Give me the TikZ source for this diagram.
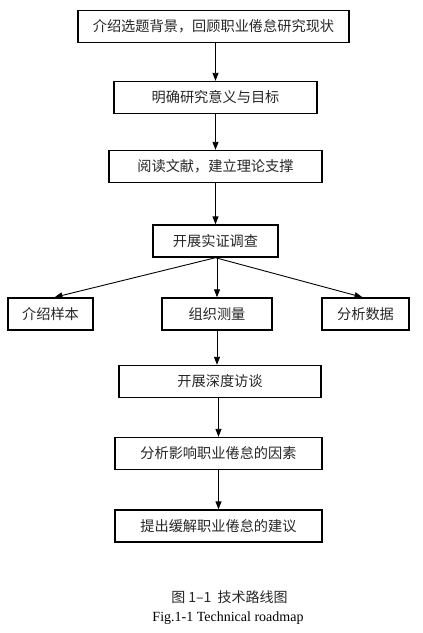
\documentclass[tikz,border=0pt]{standalone}
\usepackage{fontspec}
\setmainfont{Liberation Serif}
\newfontfamily\cjk{Noto Sans CJK SC}
\usetikzlibrary{arrows.meta}
\tikzset{
  flowbox/.style={draw=black, line width=1.4pt, inner sep=0pt, minimum height=32pt,
    font=\cjk\fontsize{14.2pt}{16pt}\selectfont, text=black!85},
  flowarrow/.style={draw=black, line width=0.9pt, -{Triangle[length=8pt,width=6pt]}},
  captext/.style={inner sep=0pt}
}
\begin{document}
\begin{tikzpicture}[x=1pt,y=-1pt]
\useasboundingbox (0,0) rectangle (423,633);
\node[flowbox, minimum width=271pt] (b1) at (213.5,26.5) {介绍选题背景，回顾职业倦怠研究现状};
\node[flowbox, minimum width=203pt] (b2) at (215.5,97.5) {明确研究意义与目标};
\node[flowbox, minimum width=213pt] (b3) at (215.5,166.5) {阅读文献，建立理论支撑};
\node[flowbox, minimum width=125pt] (b4) at (215.5,241) {开展实证调查};
\node[flowbox, minimum width=85pt] (s1) at (50.5,314) {介绍样本};
\node[flowbox, minimum width=110pt] (s2) at (217,314) {组织测量};
\node[flowbox, minimum width=87pt] (s3) at (365.5,314) {分析数据};
\node[flowbox, minimum width=202pt] (b5) at (220,381.5) {开展深度访谈};
\node[flowbox, minimum width=207pt] (b6) at (218.5,453.5) {分析影响职业倦怠的因素};
\node[flowbox, minimum width=207pt] (b7) at (218.5,526) {提出缓解职业倦怠的建议};

\draw[flowarrow] (b2.north |- b1.south) -- (b2.north);
\draw[flowarrow] (b2.south) -- (b3.north);
\draw[flowarrow] (b3.south) -- (b4.north);
\draw[flowarrow] (b4.south) -- ([xshift=4pt]s1.north);
\draw[flowarrow] (s2.north |- b4.south) -- (s2.north);
\draw[flowarrow] (b4.south) -- ([xshift=-3pt]s3.north);
\draw[flowarrow] (s2.south) -- (s2.south |- b5.north);
\draw[flowarrow] (b6.north |- b5.south) -- (b6.north);
\draw[flowarrow] (b6.south) -- (b7.north);

\node[captext, font=\cjk\fontsize{14pt}{16pt}\selectfont, text=black!85] (cap1) at (229.5,597) {图 1–1\ \ 技术路线图};
\node[captext, font=\fontsize{14pt}{16pt}\selectfont] (cap2) at (228,618) {Fig.1-1 Technical roadmap};
\end{tikzpicture}
\end{document}
